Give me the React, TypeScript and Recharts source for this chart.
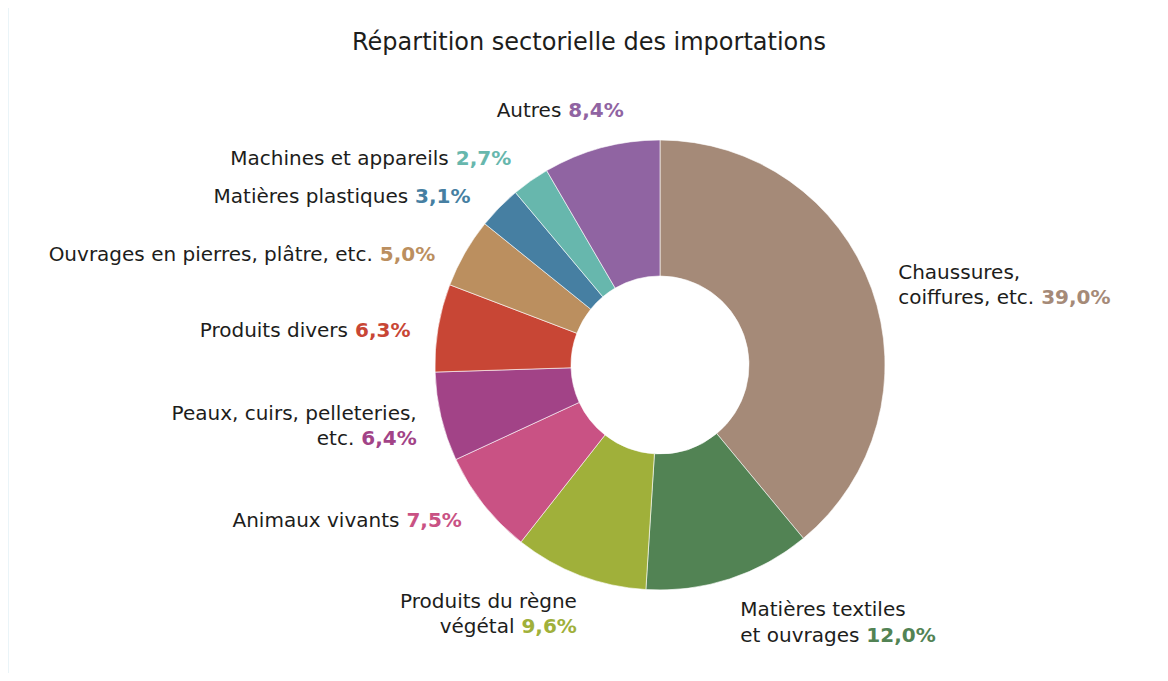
import { PieChart, Pie, Cell } from "recharts";

const sectors = [
  "Chaussures,\ncoiffures, etc.",
  "Matières textiles\net ouvrages",
  "Produits du règne\nvégétal",
  "Animaux vivants",
  "Peaux, cuirs, pelleteries,\netc.",
  "Produits divers",
  "Ouvrages en pierres, plâtre, etc.",
  "Matières plastiques",
  "Machines et appareils",
  "Autres",
];
const shares = [39.0, 12.0, 9.6, 7.5, 6.4, 6.3, 5.0, 3.1, 2.7, 8.4];
const colors = [
  "#a58a78",
  "#528354",
  "#a0b03a",
  "#c95284",
  "#a24387",
  "#c84635",
  "#bb8f5f",
  "#467fa2",
  "#67b7ad",
  "#9064a2",
];

// label tweaks around the radial anchor point
const nudges = [
  [3, 4],
  [3, 19],
  [6, 15],
  [-2, 0],
  [0, 3],
  [-3, 6],
  [-8, 14],
  [-11, 6],
  [-5, -2],
  [29, -14],
];

const data = sectors.map((name, i) => ({ name, value: shares[i] }));

const RADIAN = Math.PI / 180;
const FONT = "'DejaVu Sans', sans-serif";
const LINE_H = 25.5;

const fmt = (v: number) => v.toFixed(1).replace(".", ",") + "%";

function renderLabel(props: any) {
  const { cx, cy, midAngle, outerRadius, index } = props;
  const r = outerRadius + 25;
  const cos = Math.cos(-midAngle * RADIAN);
  const sin = Math.sin(-midAngle * RADIAN);
  const [dx, dy] = nudges[index];
  const x = cx + r * cos + dx;
  const yc = cy + r * sin + dy;
  const lines = sectors[index].split("\n");
  const anchor = cos >= 0 ? "start" : "end";
  const y0 = yc - ((lines.length - 1) * LINE_H) / 2 + 7;
  return (
    <text
      key={index}
      textAnchor={anchor}
      fontFamily={FONT}
      fontSize={20}
      fill="#1d1d1b"
    >
      {lines.map((ln, i) => (
        <tspan key={i} x={x} y={y0 + i * LINE_H}>
          {ln}
          {i === lines.length - 1 ? (
            <tspan fill={colors[index]} fontWeight={600}>
              {" " + fmt(shares[index])}
            </tspan>
          ) : null}
        </tspan>
      ))}
    </text>
  );
}

export default function App() {
  return (
    <div
      style={{
        margin: -8,
        width: 1168,
        height: 681,
        background: "#eaf4f8",
        position: "relative",
        overflow: "hidden",
      }}
    >
      <div
        style={{
          position: "absolute",
          left: 9,
          top: 7,
          width: 1159,
          height: 674,
          background: "#ffffff",
        }}
      >
        <div
          style={{
            position: "absolute",
            left: 180,
            top: 23,
            width: 800,
            textAlign: "center",
            fontFamily: FONT,
            fontSize: 24,
            lineHeight: "24px",
            color: "#1d1d1b",
          }}
        >
          Répartition sectorielle des importations
        </div>
        <PieChart width={1159} height={674} margin={{ top: 0, right: 0, bottom: 0, left: 0 }}>
          <Pie
            data={data}
            dataKey="value"
            nameKey="name"
            cx={651}
            cy={358}
            innerRadius={89}
            outerRadius={225}
            startAngle={90}
            endAngle={-270}
            label={renderLabel}
            labelLine={false}
            isAnimationActive={false}
          >
            {data.map((d, i) => (
              <Cell key={d.name} fill={colors[i]} stroke="#ffffff" strokeWidth={0.6} />
            ))}
          </Pie>
        </PieChart>
      </div>
    </div>
  );
}
